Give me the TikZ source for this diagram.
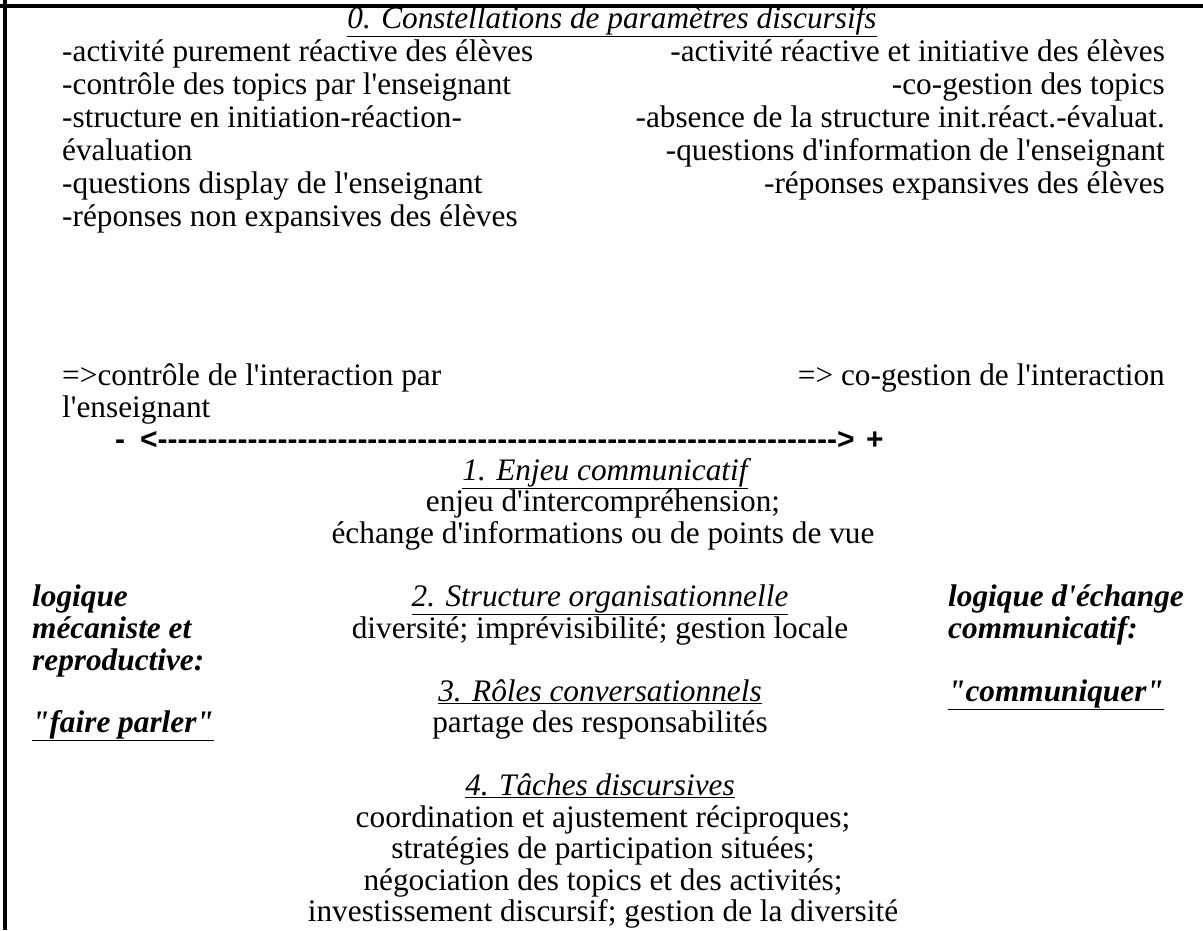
\documentclass[tikz,border=0pt]{standalone}
\usepackage{fontspec}
\newfontfamily\tms{Liberation Serif}
\newfontfamily\dashfont{Liberation Sans}
\begin{document}
\begin{tikzpicture}[x=1pt,y=-1pt,
  body/.style={font=\tms\fontsize{31.3}{34}\selectfont, inner sep=0pt},
  head/.style={font=\tms\itshape\fontsize{31.3}{34}\selectfont, inner sep=0pt},
  side/.style={font=\tms\bfseries\itshape\fontsize{31.3}{34}\selectfont, inner sep=0pt, anchor=base west},
  scalestyle/.style={font=\dashfont\bfseries\fontsize{30}{33}\selectfont, inner sep=0pt, anchor=base west},
  frameline/.style={line width=4.5pt}]
\useasboundingbox (0,0) rectangle (1203,930);
\draw[frameline] (0,6) -- (1203,6);
\draw[frameline] (5,0) -- (5,930);
% title
\node[head, anchor=base] (t0) at (612,28) {\underline{0. Constellations de paramètres discursifs}};
% left column
\node[body, anchor=base west] (l1) at (62,61) {-activité purement réactive des élèves};
\node[body, anchor=base west] (l2) at (62,94) {-contrôle des topics par l'enseignant};
\node[body, anchor=base west] (l3) at (62,127) {-structure en initiation-réaction-};
\node[body, anchor=base west] (l4) at (62,160) {évaluation};
\node[body, anchor=base west] (l5) at (62,193) {-questions display de l'enseignant};
\node[body, anchor=base west] (l6) at (62,226) {-réponses non expansives des élèves};
% right column
\node[body, anchor=base east] (r1) at (1165,61) {-activité réactive et initiative des élèves};
\node[body, anchor=base east] (r2) at (1165,94) {-co-gestion des topics};
\node[body, anchor=base east] (r3) at (1165,127) {-absence de la structure init.réact.-évaluat.};
\node[body, anchor=base east] (r4) at (1165,160) {-questions d'information de l'enseignant};
\node[body, anchor=base east] (r5) at (1165,193) {-réponses expansives des élèves};
% consequences
\node[body, anchor=base west] (c1) at (62,385) {=>contrôle de l'interaction par};
\node[body, anchor=base west] (c2) at (62,417) {l'enseignant};
\node[body, anchor=base east] (c3) at (1165,385) {=> co-gestion de l'interaction};
% scale
\node[scalestyle] (sc) at (115,449) {-\hspace{15pt}<-------------------------------------------------------------------->\hspace{11.5pt}+};
% center blocks
\node[head, anchor=base] (h1) at (605,480) {\underline{1. Enjeu communicatif}};
\node[body, anchor=base] (b11) at (603,511) {enjeu d'intercompréhension;};
\node[body, anchor=base] (b12) at (603,543) {échange d'informations ou de points de vue};
\node[head, anchor=base] (h2) at (600,606) {\underline{2. Structure organisationnelle}};
\node[body, anchor=base] (b21) at (600,638) {diversité; imprévisibilité; gestion locale};
\node[head, anchor=base] (h3) at (600,701) {\underline{3. Rôles conversationnels}};
\node[body, anchor=base] (b31) at (600,732) {partage des responsabilités};
\node[head, anchor=base] (h4) at (600,795) {\underline{4. Tâches discursives}};
\node[body, anchor=base] (b41) at (603,827) {coordination et ajustement réciproques;};
\node[body, anchor=base] (b42) at (603,858) {stratégies de participation situées;};
\node[body, anchor=base] (b43) at (603,890) {négociation des topics et des activités;};
\node[body, anchor=base] (b44) at (603,921) {investissement discursif; gestion de la diversité};
% side labels
\node[side] (s1) at (32,606) {logique};
\node[side] (s2) at (32,638) {mécaniste et};
\node[side] (s3) at (32,670) {reproductive:};
\node[side] (s4) at (32,732) {\underline{"faire parler"}};
\node[side] (s5) at (948,606) {logique d'échange};
\node[side] (s6) at (948,638) {communicatif:};
\node[side] (s7) at (948,701) {\underline{"communiquer"}};
\end{tikzpicture}
\end{document}
